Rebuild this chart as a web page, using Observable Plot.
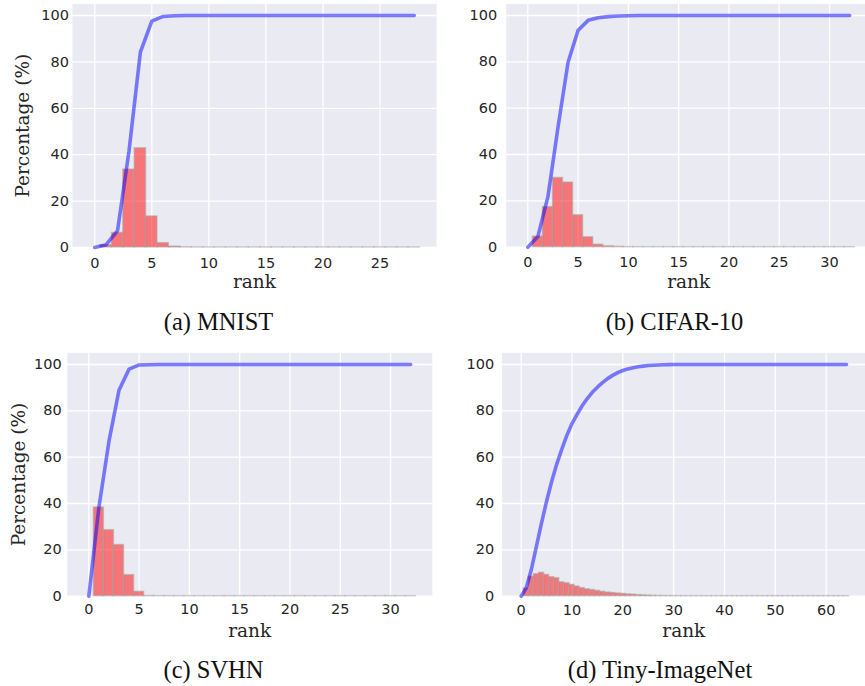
<!DOCTYPE html>
<html>
<head>
<meta charset="utf-8">
<script src="https://cdn.jsdelivr.net/npm/d3@7"></script>
<script src="https://cdn.jsdelivr.net/npm/@observablehq/plot@0.6"></script>
<style>
  html, body { margin: 0; padding: 0; background: #fff; }
  #root { position: relative; width: 865px; height: 686px; overflow: hidden; background: #fff; }
  .panel { position: absolute; }
  .caption { position: absolute; transform: translate(-50%, -50%); font-family: "Liberation Serif", serif; font-size: 24.5px; color: #111; white-space: nowrap; }
</style>
</head>
<body>
<div id="root"></div>
<script>
// ---- data (percent of samples per rank, and cumulative percentage) ----
const yTicks = [0, 20, 40, 60, 80, 100];

const mnistTicks = [0, 5, 10, 15, 20, 25];
const mnistPct = [0, 1.0, 6.3, 33.6, 42.8, 13.4, 1.9, 0.4, 0.1, 0.03,
  0.02, 0.02, 0.02, 0.02, 0.02, 0.02, 0.02, 0.02, 0.02, 0.02,
  0.02, 0.02, 0.02, 0.02, 0.02, 0.02, 0.02, 0.02, 0.02];
const mnistCdf = [0, 1.2, 7.3, 41.5, 84.2, 97.6, 99.6, 99.9, 100, 100,
  100, 100, 100, 100, 100, 100, 100, 100, 100, 100,
  100, 100, 100, 100, 100, 100, 100, 100, 100];

const cifarTicks = [0, 5, 10, 15, 20, 25, 30];
const cifarPct = [0, 4.6, 17.3, 29.9, 27.9, 13.8, 4.3, 1.1, 0.4, 0.2,
  0.05, 0.03, 0.02, 0.02, 0.02, 0.02, 0.02, 0.02, 0.02, 0.02,
  0.02, 0.02, 0.02, 0.02, 0.02, 0.02, 0.02, 0.02, 0.02, 0.02,
  0.02, 0.02, 0.02];
const cifarCdf = [0, 4.6, 21.8, 51.8, 79.8, 93.6, 97.9, 99.0, 99.5, 99.8,
  99.9, 100, 100, 100, 100, 100, 100, 100, 100, 100,
  100, 100, 100, 100, 100, 100, 100, 100, 100, 100,
  100, 100, 100];

const svhnTicks = [0, 5, 10, 15, 20, 25, 30];
const svhnPct = [0, 38.3, 28.5, 22.1, 9.1, 1.9, 0.1, 0.05, 0.04, 0.03,
  0.02, 0.02, 0.02, 0.02, 0.02, 0.02, 0.02, 0.02, 0.02, 0.02,
  0.02, 0.02, 0.02, 0.02, 0.02, 0.02, 0.02, 0.02, 0.02, 0.02,
  0.02, 0.02, 0.02];
const svhnCdf = [0, 38.3, 66.8, 88.9, 98.0, 99.8, 99.9, 100, 100, 100,
  100, 100, 100, 100, 100, 100, 100, 100, 100, 100,
  100, 100, 100, 100, 100, 100, 100, 100, 100, 100,
  100, 100, 100];

const tinyTicks = [0, 10, 20, 30, 40, 50, 60];
const tinyPct = [0, 3.4, 8.4, 9.5, 10.1, 9.2, 8.2, 7.8, 6.0, 5.6,
  4.9, 4.2, 3.5, 3.0, 2.7, 2.3, 1.9, 1.6, 1.4, 1.2,
  1.0, 0.8, 0.7, 0.5, 0.4, 0.3, 0.2, 0.15, 0.1, 0.08,
  0.05, 0.04, 0.03, 0.02, 0.02, 0.02, 0.02, 0.02, 0.02, 0.02,
  0.02, 0.02, 0.02, 0.02, 0.02, 0.02, 0.02, 0.02, 0.02, 0.02,
  0.02, 0.02, 0.02, 0.02, 0.02, 0.02, 0.02, 0.02, 0.02, 0.02,
  0.02, 0.02, 0.02, 0.02, 0.02];
const tinyCdf = [0, 3.5, 11.5, 21.5, 31.5, 41, 49.5, 57, 63.5, 69.5,
  74.5, 78.5, 82.2, 85.3, 88, 90.2, 92.2, 93.9, 95.3, 96.5,
  97.4, 98.1, 98.6, 99.0, 99.3, 99.55, 99.7, 99.8, 99.9, 99.95,
  100, 100, 100, 100, 100, 100, 100, 100, 100, 100,
  100, 100, 100, 100, 100, 100, 100, 100, 100, 100,
  100, 100, 100, 100, 100, 100, 100, 100, 100, 100,
  100, 100, 100, 100, 100];

const captions = ["(a) MNIST", "(b) CIFAR-10", "(c) SVHN", "(d) Tiny-ImageNet"];
const xLabel = "rank";
const yLabel = "Percentage (%)";

// ---- layout of the four panels ----
const panels = [
  {pct: mnistPct, cdf: mnistCdf, ticks: mnistTicks, left: 0, top: 0,
   frame: [72, 436], mTop: 3.4, fh: 243.6, xd: [-1.95, 29.95], yPad: 3.5, xPad: 10, ylab: true, ylabDx: -49,
   cap: [218.5, 322]},
  {pct: cifarPct, cdf: cifarCdf, ticks: cifarTicks, left: 430, top: 0,
   frame: [505.7, 870.8], mTop: 3.4, fh: 243.3, xd: [-2.15, 34.15], yPad: 9, xPad: 10, ylab: false,
   cap: [674.5, 322]},
  {pct: svhnPct, cdf: svhnCdf, ticks: svhnTicks, left: 0, top: 345,
   frame: [66.7, 431.8], mTop: 7.4, fh: 243.3, xd: [-2.15, 34.15], yPad: 5.5, xPad: 8, ylab: true, ylabDx: -48.4,
   cap: [213.5, 670]},
  {pct: tinyPct, cdf: tinyCdf, ticks: tinyTicks, left: 430, top: 345,
   frame: [501.6, 865.1], mTop: 7.4, fh: 243.3, xd: [-3.75, 67.75], yPad: 8, xPad: 8.6, ylab: false,
   cap: [660, 670]}
];

const root = document.getElementById("root");

panels.forEach((p, i) => {
  const data = p.pct.map((v, k) => ({rank: k, pct: v, cdf: p.cdf[k]}));
  const marginLeft = p.frame[0] - p.left;
  const marginRight = 6;
  const width = p.frame[1] - p.left + marginRight;
  const marginBottom = 52;
  const height = p.mTop + p.fh + marginBottom;

  const marks = [
    Plot.frame({fill: "#EAEAF2"}),
    Plot.gridX({ticks: p.ticks, stroke: "#ffffff", strokeOpacity: 1, strokeWidth: 1.3}),
    Plot.gridY({ticks: yTicks, stroke: "#ffffff", strokeOpacity: 1, strokeWidth: 1.3}),
    Plot.rectY(data, {
      x1: d => d.rank - 0.5, x2: d => d.rank + 0.5, y: "pct",
      fill: "red", fillOpacity: 0.5, stroke: "#a8a8a8", strokeOpacity: 0.55, strokeWidth: 1.4
    }),
    Plot.line(data, {x: "rank", y: "cdf", stroke: "blue", strokeOpacity: 0.5, strokeWidth: 3.6, strokeLinejoin: "round"}),
    Plot.axisX({ticks: p.ticks, tickSize: 0, tickPadding: p.xPad, label: null, fontSize: 14.5}),
    Plot.axisY({ticks: yTicks, tickSize: 0, tickPadding: p.yPad, label: null, fontSize: 14.5}),
    Plot.text([xLabel], {frameAnchor: "bottom", dy: 34.5, lineAnchor: "middle", textAnchor: "middle", fontFamily: "DejaVu Serif", fontSize: 18.5, fill: "#262626"})
  ];
  if (p.ylab) {
    marks.push(Plot.text([yLabel], {frameAnchor: "left", dx: p.ylabDx, rotate: -90, lineAnchor: "middle", textAnchor: "middle", fontFamily: "DejaVu Serif", fontSize: 18.5, fill: "#262626"}));
  }

  const svg = Plot.plot({
    width, height,
    marginLeft, marginRight, marginTop: p.mTop, marginBottom,
    x: {domain: p.xd},
    y: {domain: [0, 105]},
    style: {background: "transparent", fontFamily: "DejaVu Sans", fontSize: "14.5px", color: "#262626", overflow: "visible"},
    marks
  });
  svg.classList.add("panel");
  svg.style.left = p.left + "px";
  svg.style.top = p.top + "px";
  root.appendChild(svg);

  const cap = document.createElement("div");
  cap.className = "caption";
  cap.textContent = captions[i];
  cap.style.left = p.cap[0] + "px";
  cap.style.top = p.cap[1] + "px";
  root.appendChild(cap);
});
</script>
</body>
</html>
